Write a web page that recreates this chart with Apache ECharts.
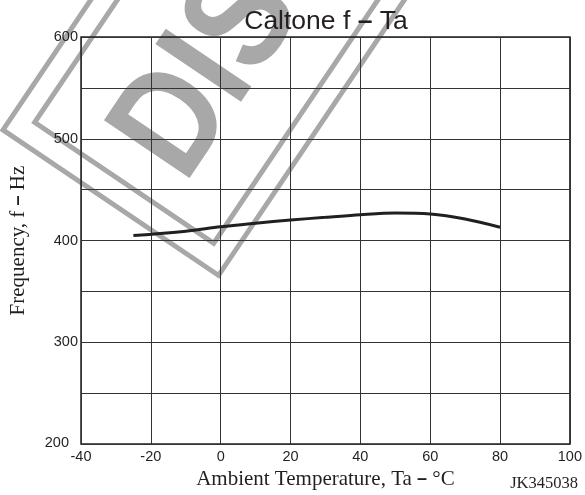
<!DOCTYPE html>
<html>
<head>
<meta charset="utf-8">
<script src="https://cdn.jsdelivr.net/npm/echarts@6/dist/echarts.min.js"></script>
<style>
  html, body { margin: 0; padding: 0; background: #fff; }
  #chart { width: 585px; height: 495px; }
</style>
</head>
<body>
<div id="chart"></div>
<script>
// Caltone frequency versus ambient temperature
const temperatures = [-25, -10, 0, 10, 20, 30, 40, 50, 60, 70, 80];
const frequencies = [404.9, 409.2, 413.5, 417, 420.2, 422.8, 425.4, 427.0, 426.1, 421.2, 413.1];
const xTicks = [-40, -20, 0, 20, 40, 60, 80, 100];
const yTicks = [200, 300, 400, 500, 600];

const ink = '#231f20';
const stampGrey = '#a8a8a8';

const chart = echarts.init(document.getElementById('chart'), null, { renderer: 'canvas' });

chart.setOption({
  backgroundColor: '#fff',
  animation: false,
  title: {
    text: 'Caltone f {d|–} Ta',
    left: 321,
    textAlign: 'center',
    top: 3,
    textStyle: {
      fontFamily: 'Liberation Sans',
      fontSize: 26.5,
      fontWeight: 'normal',
      color: ink,
      rich: { d: { fontFamily: 'Liberation Sans', fontSize: 26.5, fontWeight: 'bold', color: ink } }
    }
  },
  grid: {
    left: 80, right: 13, top: 37, bottom: 49,
    show: true, borderColor: ink, borderWidth: 1.5, backgroundColor: 'transparent'
  },
  xAxis: {
    type: 'value',
    z: 3,
    min: xTicks[0], max: xTicks[xTicks.length - 1], interval: 20,
    name: 'Ambient Temperature, Ta {d|–} °C',
    nameLocation: 'middle',
    nameGap: 14,
    nameTextStyle: {
      fontFamily: 'Liberation Serif', fontSize: 21, color: ink, verticalAlign: 'top',
      rich: { d: { fontFamily: 'Liberation Sans', fontWeight: 'bold', fontSize: 18, color: ink } }
    },
    axisLine: { show: false },
    axisTick: { show: false },
    axisLabel: {
      margin: 5, fontFamily: 'Liberation Sans', fontSize: 14.5, color: ink,
      customValues: xTicks
    },
    splitLine: { show: true, lineStyle: { color: '#333', width: 1 } }
  },
  yAxis: {
    type: 'value',
    z: 3,
    min: yTicks[0], max: yTicks[yTicks.length - 1], interval: 50,
    name: 'Frequency, f {d|–} Hz',
    nameLocation: 'middle',
    nameGap: 52,
    nameTextStyle: {
      fontFamily: 'Liberation Serif', fontSize: 21, color: ink,
      rich: { d: { fontFamily: 'Liberation Sans', fontWeight: 'bold', fontSize: 18, color: ink } }
    },
    axisLine: { show: false },
    axisTick: { show: false },
    axisLabel: {
      margin: 3, fontFamily: 'Liberation Sans', fontSize: 14.5, color: ink,
      formatter: v => {
        if (yTicks.indexOf(v) < 0) return '';
        // the bottom label steps aside for the first temperature label
        return v === yTicks[0] ? '{low|' + v + '}' : String(v);
      },
      rich: { low: { fontFamily: 'Liberation Sans', fontSize: 14.5, color: ink, padding: [0, 9, 2, 0] } }
    },
    splitLine: { show: true, lineStyle: { color: '#333', width: 1 } }
  },
  graphic: [
    {
      // diagonal "discontinued" stamp, drawn under the grid
      type: 'group',
      x: 3, y: 130,
      rotation: 56 * Math.PI / 180,
      z: -10,
      silent: true,
      children: [
        { type: 'rect', shape: { x: 0, y: 0, width: 1400, height: 260 },
          style: { fill: 'none', stroke: stampGrey, lineWidth: 5 }, z: -10 },
        { type: 'rect', shape: { x: 24, y: 22, width: 1350, height: 216 },
          style: { fill: 'none', stroke: stampGrey, lineWidth: 5 }, z: -10 },
        { type: 'text', x: 56, y: 140, z: -10, scaleX: 0.85,
          style: { text: 'DISCONTINUED', fill: stampGrey, fontFamily: 'Liberation Sans',
                   fontWeight: 'bold', fontSize: 150, verticalAlign: 'middle', align: 'left' } }
      ]
    },
    {
      type: 'text', right: 7, top: 475,
      style: { text: 'JK345038', fill: ink, fontFamily: 'Liberation Serif', fontSize: 16.5 }
    }
  ],
  series: [
    {
      type: 'line',
      data: temperatures.map((t, i) => [t, frequencies[i]]),
      smooth: 0.35,
      symbol: 'none',
      lineStyle: { color: ink, width: 3 },
      z: 5
    }
  ]
});
</script>
</body>
</html>
